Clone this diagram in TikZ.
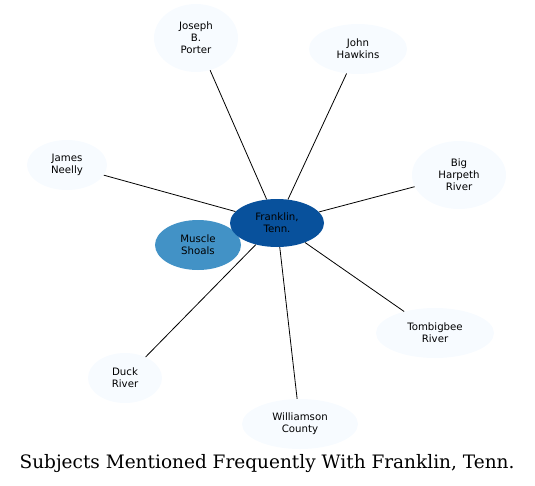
\documentclass[tikz,border=0pt]{standalone}
\usepackage{fontspec}
\setmainfont{DejaVu Sans}
\newfontfamily\titlefont{DejaVu Serif}
\usetikzlibrary{shapes.geometric}
\definecolor{HubBlue}{HTML}{08519C}
\definecolor{MidBlue}{HTML}{4292C6}
\definecolor{PaleBlue}{HTML}{F7FBFF}

\begin{document}
\begin{tikzpicture}[
    x=1pt,y=-1pt,
    topic/.style={ellipse,fill=PaleBlue,inner sep=0pt,align=center,
                  font=\fontsize{10.2}{12}\selectfont},
    link/.style={black,line width=0.8pt}
  ]
    \useasboundingbox (0,0) rectangle (535,485);
    \node[topic,fill=MidBlue,minimum width=86,minimum height=50] (shoals) at (198,245) {Muscle\\Shoals};
    \node[topic,fill=HubBlue,minimum width=94,minimum height=48] (franklin) at (277,223) {Franklin,\\Tenn.};
    \node[topic,minimum width=84,minimum height=68] (porter) at (196,38) {Joseph\\B.\\Porter};
    \node[topic,minimum width=98,minimum height=50] (hawkins) at (358,49) {John\\Hawkins};
    \node[topic,minimum width=80,minimum height=50] (neelly) at (67,165) {James\\Neelly};
    \node[topic,minimum width=94,minimum height=68] (harpeth) at (459,175) {Big\\Harpeth\\River};
    \node[topic,minimum width=118,minimum height=50] (tombigbee) at (435,333) {Tombigbee\\River};
    \node[topic,minimum width=74,minimum height=50] (duck) at (125,378) {Duck\\River};
    \node[topic,minimum width=116,minimum height=50] (williamson) at (300,424) {Williamson\\County};
    \draw[link] (franklin) -- (porter);
    \draw[link] (franklin) -- (hawkins);
    \draw[link] (franklin) -- (neelly);
    \draw[link] (franklin) -- (harpeth);
    \draw[link] (franklin) -- (tombigbee);
    \draw[link] (franklin) -- (duck);
    \draw[link] (franklin) -- (williamson);
    \node[font=\titlefont\fontsize{18.5}{22}\selectfont] (title) at (267,464) {Subjects Mentioned Frequently With Franklin, Tenn.};
  \end{tikzpicture}
\end{document}
